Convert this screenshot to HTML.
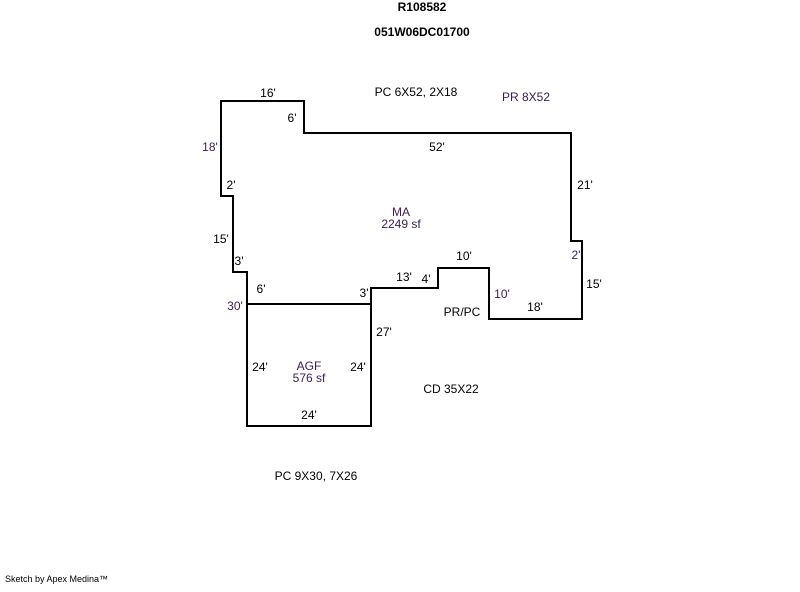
<!DOCTYPE html>
<html><head><style>
body{margin:0;background:#fff;}
svg text{font-family:"Liberation Sans",Arial,sans-serif;font-size:12px;}
.p{fill:#3a1a5a}
.b{fill:#000}
</style></head><body>
<svg width="800" height="587" xmlns="http://www.w3.org/2000/svg">
<g fill="none" stroke="#000" stroke-width="2">
<polygon points="221,101 304,101 304,133 571,133 571,241 582,241 582,319 489,319 489,268 438,268 438,288 371,288 371,426 247,426 247,272 233,272 233,196 221,196"/>
<line x1="247" y1="304" x2="371" y2="304"/>
</g>
<g text-anchor="middle">
<text x="422" y="11" style="font-weight:bold" class="b">R108582</text>
<text x="422" y="36" style="font-weight:bold" class="b">051W06DC01700</text>
<text x="416" y="96" class="b">PC 6X52, 2X18</text>
<text x="526" y="101" class="p">PR 8X52</text>
<text x="268" y="97" class="b">16'</text>
<text x="292" y="122" class="b">6'</text>
<text x="210" y="151" class="p">18'</text>
<text x="437" y="151" class="b">52'</text>
<text x="585" y="189" class="b">21'</text>
<text x="231" y="189" class="b">2'</text>
<text x="401" y="216" class="p">MA</text>
<text x="401" y="228" class="p">2249 sf</text>
<text x="221" y="243" class="b">15'</text>
<text x="239" y="265" class="b">3'</text>
<text x="464" y="260" class="b">10'</text>
<text x="576" y="259" class="p">2'</text>
<text x="404" y="281" class="b">13'</text>
<text x="426" y="283" class="b">4'</text>
<text x="594" y="288" class="b">15'</text>
<text x="261" y="293" class="b">6'</text>
<text x="364" y="297" class="b">3'</text>
<text x="502" y="298" class="p">10'</text>
<text x="235" y="310" class="p">30'</text>
<text x="535" y="311" class="b">18'</text>
<text x="462" y="316" class="b">PR/PC</text>
<text x="384" y="336" class="b">27'</text>
<text x="260" y="371" class="b">24'</text>
<text x="309" y="370" class="p">AGF</text>
<text x="309" y="382" class="p">576 sf</text>
<text x="358" y="371" class="b">24'</text>
<text x="451" y="393" class="b">CD 35X22</text>
<text x="309" y="419" class="b">24'</text>
<text x="316" y="480" class="b">PC 9X30, 7X26</text>
</g>
<text x="5" y="582" style="font-size:9px" class="b">Sketch by Apex Medina™</text>
</svg>
</body></html>
